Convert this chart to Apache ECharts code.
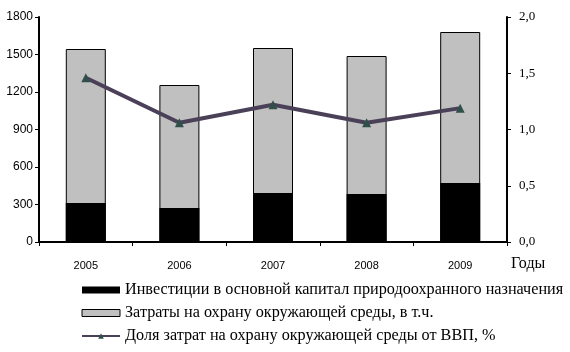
<!DOCTYPE html>
<html><head><meta charset="utf-8">
<script src="https://cdn.jsdelivr.net/npm/echarts@6/dist/echarts.min.js"></script>
<style>html,body{margin:0;padding:0;background:#fff}#c{width:570px;height:352px}</style>
</head><body><div id="c"></div>
<script>
const years = ['2005','2006','2007','2008','2009'];
const totalCosts = [1544, 1256, 1552, 1488, 1680];
const investments = [312, 272, 392, 384, 472];
const gdpShare = [1.46, 1.06, 1.22, 1.06, 1.19];
const leftTicks = [0, 300, 600, 900, 1200, 1500, 1800];
const rightTicks = [0, 0.5, 1.0, 1.5, 2.0];
const names = [
  'Инвестиции в основной капитал природоохранного назначения',
  'Затраты на охрану окружающей среды, в т.ч.',
  'Доля затрат на охрану окружающей среды от ВВП, %'
];
const chart = echarts.init(document.getElementById('c'), null, {renderer:'canvas'});
chart.setOption({
  animation:false,
  backgroundColor:'#fff',
  grid:{left:39, right:63, top:17, bottom:110},
  legend:{
    orient:'vertical', left:76, top:277, itemWidth:38, itemHeight:7, itemGap:7,
    textStyle:{fontFamily:'Liberation Serif', fontSize:16.2, color:'#000'},
    data:[
      {name:names[0], icon:'rect', itemStyle:{color:'#000', borderWidth:0}},
      {name:names[1], icon:'rect', itemStyle:{color:'#c0c0c0', borderColor:'#000', borderWidth:1}},
      {name:names[2]}
    ]
  },
  xAxis:{
    type:'category', data:years,
    axisLine:{lineStyle:{color:'#000', width:2}},
    axisTick:{show:true, alignWithLabel:false, length:4, lineStyle:{color:'#000'}},
    axisLabel:{fontFamily:'Liberation Sans', fontSize:11, color:'#000', margin:18}
  },
  yAxis:[
    {type:'value', min:leftTicks[0], max:leftTicks[leftTicks.length-1], interval:300,
     splitLine:{show:false},
     axisLine:{show:true, lineStyle:{color:'#000', width:2}},
     axisTick:{show:true, length:4, lineStyle:{color:'#000'}},
     axisLabel:{fontFamily:'Liberation Sans', fontSize:12, color:'#000', margin:6,
       formatter:v=>String(v)}},
    {type:'value', min:rightTicks[0], max:rightTicks[rightTicks.length-1], interval:0.5,
     position:'right', splitLine:{show:false},
     axisLine:{show:true, lineStyle:{color:'#000', width:2}},
     axisTick:{show:true, length:4, lineStyle:{color:'#000'}},
     axisLabel:{fontFamily:'Liberation Serif', fontSize:13, color:'#000', margin:12,
       formatter:v=>v.toFixed(1).replace('.',',')}}
  ],
  graphic:[{type:'text', left:511, top:256,
    style:{text:'Годы', font:'16px "Liberation Serif"', fill:'#000'}}],
  series:[
    {name:names[1], type:'bar', data:totalCosts, barWidth:40, z:2,
     itemStyle:{color:'#c0c0c0', borderColor:'#000', borderWidth:1}},
    {name:names[0], type:'bar', data:investments, barWidth:40, barGap:'-100%', z:3,
     itemStyle:{color:'#000'}},
    {name:names[2], type:'line', yAxisIndex:1, data:gdpShare, z:5,
     symbol:'triangle', symbolSize:9,
     lineStyle:{color:'#4a4058', width:4},
     itemStyle:{color:'#2f5048'}}
  ]
});
</script></body></html>
